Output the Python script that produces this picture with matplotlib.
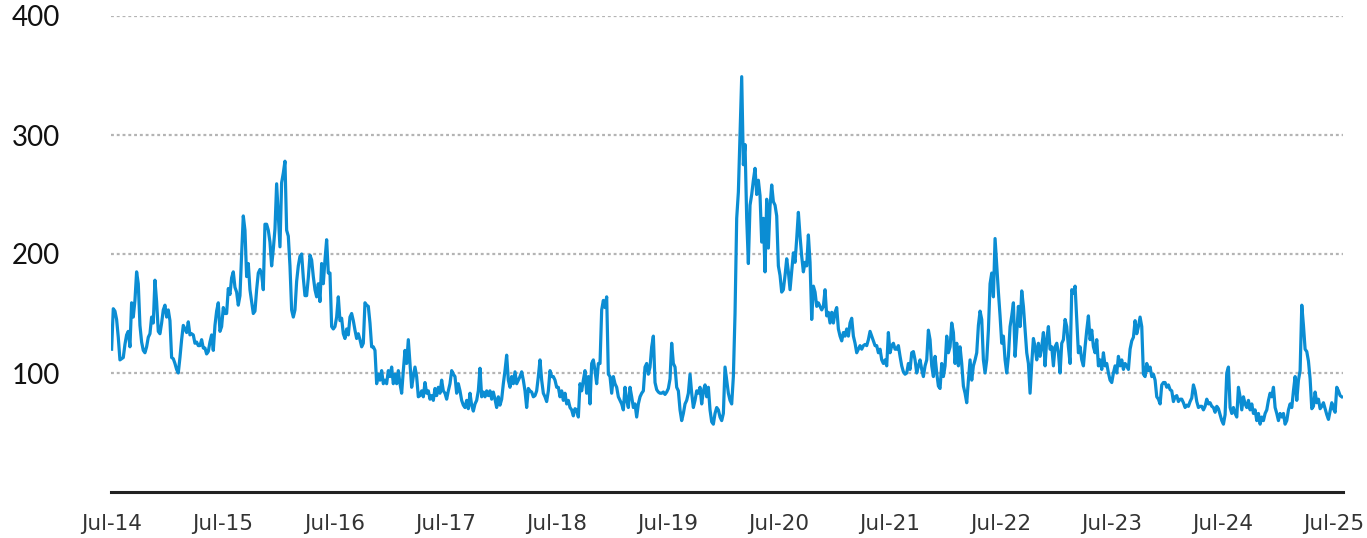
import numpy as np
import pandas as pd
import matplotlib
matplotlib.use("Agg")
import matplotlib.pyplot as plt

# ---------------------------
# Series values (roughly every 5-6 days)
# ---------------------------
vals_2014_16 = [120, 154, 152, 145, 130, 111, 112, 113, 124, 132, 135, 122, 159, 147, 161, 185, 175, 140,
                126, 119, 117, 122, 130, 133, 147, 142, 178, 160, 135, 133, 142, 153, 157, 147, 153, 144,
                113, 112, 108, 103, 100, 113, 128, 140, 137, 134, 143, 132, 133, 132, 125, 126, 123, 123,
                128, 121, 121, 116, 118, 126, 132, 119, 140, 152, 159, 135, 139, 155, 150, 150, 171, 166,
                180, 185, 172, 168, 157, 165, 200, 232, 220, 181, 192, 170, 160, 150, 152, 170, 184, 187,
                183, 170, 225, 225, 220, 210, 190, 204, 221, 259, 232, 206, 260, 268, 278, 220, 215, 190,
                153, 147, 153, 177, 190, 198, 200, 180, 165, 165, 180]
vals_2016_18 = [199, 195, 181, 170, 164, 175, 160, 192, 175, 195, 212, 184, 184, 139, 137, 139, 147, 164,
                144, 146, 133, 129, 137, 132, 147, 150, 144, 136, 129, 133, 128, 122, 125, 159, 157, 156,
                142, 122, 122, 119, 91, 99, 94, 102, 91, 94, 91, 102, 97, 105, 91, 99, 91, 102, 91, 83,
                102, 119, 108, 128, 108, 88, 97, 105, 97, 80, 81, 85, 80, 92, 83, 85, 78, 81, 77, 87, 81,
                88, 83, 94, 85, 83, 78, 85, 91, 102, 99, 97, 83, 91, 85, 77, 73, 71, 77, 70, 83, 73, 68,
                74, 77, 85, 104, 80, 84, 80, 85, 81, 85, 78, 84, 78, 71, 80, 73, 78, 91, 102, 115, 94, 88,
                97, 91, 101, 91, 94, 97, 101, 94, 85, 71, 87, 85]
vals_2018_20 = [84, 80, 81, 85, 97, 111, 94, 83, 80, 76, 85, 102, 97, 97, 94, 88, 88, 80, 85, 77, 83, 74,
                77, 71, 69, 64, 70, 69, 63, 91, 85, 94, 102, 83, 97, 74, 108, 111, 102, 91, 108, 108, 153,
                161, 155, 164, 99, 97, 83, 97, 91, 88, 80, 77, 74, 69, 88, 77, 71, 88, 80, 71, 74, 63, 74,
                80, 83, 85, 105, 108, 99, 105, 122, 131, 92, 86, 84, 83, 83, 84, 82, 84, 87, 95, 125, 108,
                105, 88, 85, 69, 60, 66, 74, 77, 83, 99, 83, 71, 77, 85, 83, 88, 74, 85, 90, 80, 88, 69,
                59, 57, 66, 71, 69, 63, 60, 66, 105, 94, 83, 77, 74]
vals_2020_22 = [97, 150, 230, 252, 300, 349, 275, 292, 230, 192, 241, 250, 262, 272, 250, 262, 249, 210,
                230, 185, 246, 205, 240, 258, 244, 241, 232, 190, 182, 168, 170, 182, 196, 185, 170, 185,
                201, 193, 213, 235, 215, 198, 185, 193, 190, 216, 193, 145, 173, 168, 156, 159, 156, 153,
                156, 170, 148, 151, 142, 151, 142, 151, 155, 137, 131, 127, 134, 131, 137, 131, 142, 146,
                131, 125, 117, 120, 123, 120, 123, 124, 123, 128, 135, 131, 127, 123, 123, 117, 120, 111,
                108, 111, 106, 134, 117, 123, 125, 120, 120, 123, 114, 106, 101, 99, 100, 108, 103, 117,
                118, 111, 100, 106, 111]
vals_2022_23 = [103, 97, 106, 111, 136, 128, 106, 97, 114, 100, 89, 87, 108, 97, 106, 131, 117, 122, 142,
                134, 108, 125, 106, 122, 108, 89, 83, 75, 94, 111, 94, 106, 111, 117, 140, 152, 145, 111,
                100, 111, 136, 175, 184, 164, 213, 190, 168, 148, 125, 131, 111, 100, 114, 139, 148, 159,
                114, 134, 156, 139, 169, 156, 136, 117, 108, 83, 108, 129, 122, 111, 125, 114, 122, 134,
                106, 128, 139, 120, 122, 106, 122, 125, 117, 100, 125, 128, 145, 139, 122, 108, 170, 167,
                173, 145, 117, 122, 111, 106, 122, 136, 148, 128, 136, 122, 117, 128, 106, 111, 103, 117,
                106, 108, 100, 94, 92, 100, 106, 100, 114, 106, 111, 103, 108, 106, 103, 120]
vals_2023_25 = [127, 130, 144, 133, 139, 147, 139, 99, 97, 108, 102, 105, 97, 99, 94, 80, 78, 74, 90, 92,
                92, 88, 90, 86, 85, 76, 80, 81, 76, 78, 78, 75, 71, 73, 72, 76, 79, 90, 85, 76, 71, 72, 72,
                69, 72, 78, 74, 75, 72, 71, 67, 72, 70, 65, 60, 57, 65, 100, 105, 71, 66, 71, 66, 63, 88,
                80, 69, 80, 74, 71, 77, 69, 74, 66, 69, 60, 66, 57, 63, 60, 66, 69, 77, 83, 80, 88, 71, 66,
                60, 66, 63, 66, 57, 60, 69, 74, 71, 85, 97, 77, 94, 102, 157, 140, 120, 118, 110, 95, 70,
                72, 84, 75, 78, 70, 72, 75, 70, 65, 61, 68, 75, 70, 67, 88, 85, 81, 80]

values = np.array(vals_2014_16 + vals_2016_18 + vals_2018_20 + vals_2020_22 + vals_2022_23 + vals_2023_25)
dates = pd.date_range("2014-06-30", "2025-07-26", periods=len(values))

tick_years = list(range(2014, 2026))
tick_dates = [pd.Timestamp(f"{y}-07-01") for y in tick_years]
tick_labels = [f"Jul-{y % 100:02d}" for y in tick_years]
y_ticks = [100, 200, 300, 400]

# ---------------------------
# Figure
# ---------------------------
fig = plt.figure(figsize=(13.67, 5.38), dpi=100)
ax = fig.add_axes([111 / 1367, 46 / 538, 1232 / 1367, 476 / 538])

for yv in y_ticks:
    ax.axhline(yv, color="#b4b4b4", lw=1.6, ls=(0, (1.3, 1.3)), zorder=1)

ax.plot(dates, values, color="#0b8dd3", lw=2.3, zorder=3, solid_joinstyle="round")

ax.set_ylim(0, 400)
ax.set_xlim(pd.Timestamp("2014-06-28"), pd.Timestamp("2025-07-30"))

for s in ["top", "right", "left"]:
    ax.spines[s].set_visible(False)
ax.spines["bottom"].set_color("#222222")
ax.spines["bottom"].set_linewidth(2.2)

ax.set_yticks(y_ticks)
ax.set_yticklabels([str(v) for v in y_ticks], fontsize=20, family="Lato", color="#111111")
ax.set_xticks(tick_dates)
ax.set_xticklabels(tick_labels, fontsize=15.5, color="#333333")
ax.tick_params(axis="y", length=0, pad=37)
ax.tick_params(axis="x", length=0, pad=16)

fig.savefig("out.png", dpi=100)
